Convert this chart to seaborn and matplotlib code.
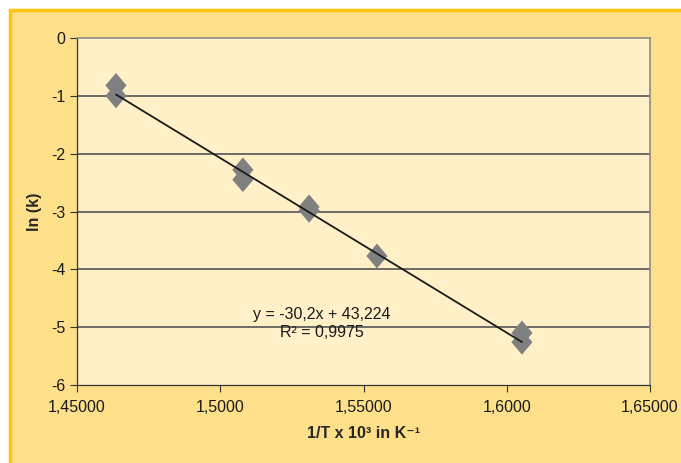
import numpy as np
import pandas as pd
import matplotlib
matplotlib.use("Agg")
import matplotlib.pyplot as plt
from matplotlib.patches import Rectangle
import seaborn as sns

# === data ===
inv_t = [1.4636, 1.4636, 1.5079, 1.5079, 1.5310, 1.5310, 1.5547, 1.6053, 1.6053]
ln_k = [-0.82, -1.00, -2.28, -2.45, -2.92, -2.98, -3.77, -5.10, -5.26]

slope = -30.2
intercept = 43.224
r2_text = "R² = 0,9975"
eq_text = "y = -30,2x + 43,224"

x_ticks = [1.45, 1.50, 1.55, 1.60, 1.65]
x_tick_labels = ["1,45000", "1,5000", "1,55000", "1,6000", "1,65000"]
y_ticks = [0, -1, -2, -3, -4, -5, -6]

df = pd.DataFrame({"inv_t": inv_t, "ln_k": ln_k})
fit_x = [min(inv_t), max(inv_t)]
fit = pd.DataFrame({"inv_t": fit_x, "ln_k": [slope * v + intercept for v in fit_x]})

# === style ===
sns.set_style("white")
fam = ["Liberation Sans Narrow", "Liberation Sans", "DejaVu Sans"]
plt.rcParams["font.family"] = fam

outer_bg = "#FFE08A"
plot_bg = "#FFF0C8"

fig = plt.figure(figsize=(6.81, 4.63), dpi=100)
fig.patch.set_facecolor("white")
# only the left and top border of the outer panel are visible
fig.patches.append(Rectangle((10 / 681, -0.1), 1.2, 1.1 - 10 / 463, transform=fig.transFigure,
                             facecolor=outer_bg, edgecolor="#FFC20E", linewidth=2.5,
                             zorder=-10))

ax = fig.add_axes([77 / 681, 1 - 385 / 463, (650 - 77) / 681, (385 - 38) / 463])
ax.set_facecolor(plot_bg)

diamond = [(0, 1), (0.85, 0), (0, -1), (-0.85, 0), (0, 1)]
sns.scatterplot(data=df, x="inv_t", y="ln_k", marker=diamond, s=320, color="#808080",
                edgecolor="none", ax=ax, zorder=3)
sns.lineplot(data=fit, x="inv_t", y="ln_k", color="#1a1a1a", linewidth=1.3, ax=ax, zorder=4)

ax.set_xlim(1.45, 1.65)
ax.set_ylim(-6, 0)
ax.set_xticks(x_ticks)
ax.set_xticklabels(x_tick_labels)
ax.set_yticks(y_ticks)
ax.set_yticklabels([str(v) for v in y_ticks])
ax.tick_params(axis="both", which="both", direction="out", length=5, width=0.8,
               color="#333333", labelsize=11.5, colors="#1a1a1a", left=True, bottom=True)
ax.tick_params(axis="x", pad=6)

for yv in y_ticks[1:-1]:
    ax.axhline(yv, color="#555555", linewidth=1.2, zorder=1)
for side in ["left", "bottom"]:
    ax.spines[side].set_color("#333333")
    ax.spines[side].set_linewidth(0.9)
for side in ["top", "right"]:
    ax.spines[side].set_color("#8a8a8a")
    ax.spines[side].set_linewidth(1.2)

ax.set_xlabel("1/T x 10³ in K⁻¹", fontsize=11.5, fontweight="bold", labelpad=8)
ax.set_ylabel("ln (k)", fontsize=11.5, fontweight="bold", labelpad=6)

ax.text(1.5355, -4.78, eq_text, ha="center", va="center", fontsize=11.5, color="#1a1a1a")
ax.text(1.5355, -5.10, r2_text, ha="center", va="center", fontsize=11.5, color="#1a1a1a")

fig.savefig("out.png", dpi=100, facecolor=fig.get_facecolor())
